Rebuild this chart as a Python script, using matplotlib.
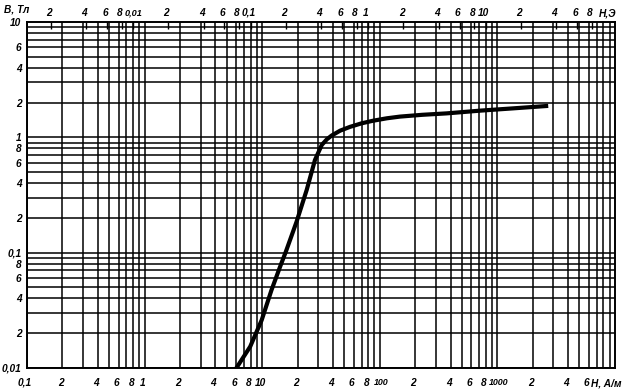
import numpy as np
import matplotlib
matplotlib.use("Agg")
import matplotlib.pyplot as plt
from matplotlib.transforms import ScaledTranslation

# magnetization curve B(H)
h_am = [6.0, 7.9, 9.9, 12.0, 14.2, 15.9, 19.6, 23.9, 28.1, 32.1, 35.5, 39.0,
        46.0, 55.8, 70.0, 87.5, 115, 148.6, 230, 370, 711, 1365, 2710]
b_t = [0.0099, 0.0153, 0.026, 0.0474, 0.0755, 0.102, 0.185, 0.349, 0.635,
       0.857, 0.96, 1.035, 1.14, 1.23, 1.32, 1.39, 1.46, 1.51, 1.565, 1.61,
       1.70, 1.78, 1.87]

# axis labels
x_ticks = [0.1, 0.2, 0.4, 0.6, 0.8, 1, 2, 4, 6, 8, 10, 20, 40, 60, 80, 100,
           200, 400, 600, 800, 1000, 2000, 4000, 6000]
x_labels = ["0,1", "2", "4", "6", "8", "1", "2", "4", "6", "8", "10", "2", "4",
            "6", "8", "100", "2", "4", "6", "8", "1000", "2", "4", "6"]
oe_ticks = [0.002, 0.004, 0.006, 0.008, 0.01, 0.02, 0.04, 0.06, 0.08, 0.1,
            0.2, 0.4, 0.6, 0.8, 1, 2, 4, 6, 8, 10, 20, 40, 60, 80]
oe_labels = ["2", "4", "6", "8", "0,01", "2", "4", "6", "8", "0,1", "2", "4",
             "6", "8", "1", "2", "4", "6", "8", "10", "2", "4", "6", "8"]
y_ticks = [10, 6, 4, 2, 1, 0.8, 0.6, 0.4, 0.2, 0.1, 0.08, 0.06, 0.04, 0.02, 0.01]
y_labels = ["10", "6", "4", "2", "1", "8", "6", "4", "2", "0,1", "8", "6", "4",
            "2", "0,01"]

OE = 1000 / (4 * np.pi)  # A/m per oersted

font = dict(family=["Liberation Sans Narrow", "Liberation Sans", "DejaVu Sans"],
            style="italic", weight="bold", size=7.3)

fig = plt.figure(figsize=(6.3, 3.91), dpi=100)
ax = fig.add_axes([0.043, 0.059, 0.933, 0.885])
ax.set_xscale("log")
ax.set_yscale("log")
ax.set_xlim(0.1, 10000)
ax.set_ylim(0.01, 10)

# full log grid
for dec in [0.1, 1, 10, 100, 1000]:
    for m in range(1, 10):
        ax.axvline(dec * m, color="black", lw=1.1, zorder=1)
for dec in [0.01, 0.1, 1]:
    for m in range(1, 10):
        ax.axhline(dec * m, color="black", lw=1.1, zorder=1)

ax.plot(h_am, b_t, color="black", lw=3.0, solid_capstyle="butt",
        solid_joinstyle="round", zorder=3)

for s in ax.spines.values():
    s.set_linewidth(1.4)

ax.set_xticks(x_ticks)
ax.set_xticklabels(x_labels, fontdict=font)
ax.set_xticks([], minor=True)
ax.set_yticks(y_ticks)
ax.set_yticklabels(y_labels, fontdict=font)
ax.set_yticks([], minor=True)
ax.tick_params(axis="both", which="both", length=0)
ax.tick_params(axis="x", pad=7)
ax.tick_params(axis="y", pad=4)

shift = ScaledTranslation(-2 / 100, 0, fig.dpi_scale_trans)
for lbl in ax.get_xticklabels():
    if len(lbl.get_text()) >= 3 and "," not in lbl.get_text():
        # long labels are squeezed in the original
        lbl.set_fontsize(6.4)
        lbl.set_transform(lbl.get_transform() + ScaledTranslation(1 / 100, 0, fig.dpi_scale_trans))
    else:
        lbl.set_transform(lbl.get_transform() + shift)

# oersted scale on top
top = ax.secondary_xaxis("top", functions=(lambda h: h / OE, lambda o: o * OE))
top.set_xticks(oe_ticks)
top.set_xticklabels(oe_labels, fontdict=font)
top.set_xticks([], minor=True)
top.tick_params(axis="x", direction="in", length=5, width=1, pad=3)
top.spines["top"].set_visible(False)
for lbl in top.get_xticklabels():
    if lbl.get_text() == "0,01":
        lbl.set_fontsize(6.6)
        lbl.set_transform(lbl.get_transform() + ScaledTranslation(1 / 100, 0, fig.dpi_scale_trans))
    else:
        lbl.set_transform(lbl.get_transform() + shift)

fig.text(0.007, 0.975, "B, Тл", ha="left", va="center", fontdict=font)
fig.text(0.964, 0.965, "H,Э", ha="center", va="center", fontdict=font)
fig.text(0.962, 0.018, "H, A/м", ha="center", va="center", fontdict=font)

fig.savefig("out.png", dpi=100)
